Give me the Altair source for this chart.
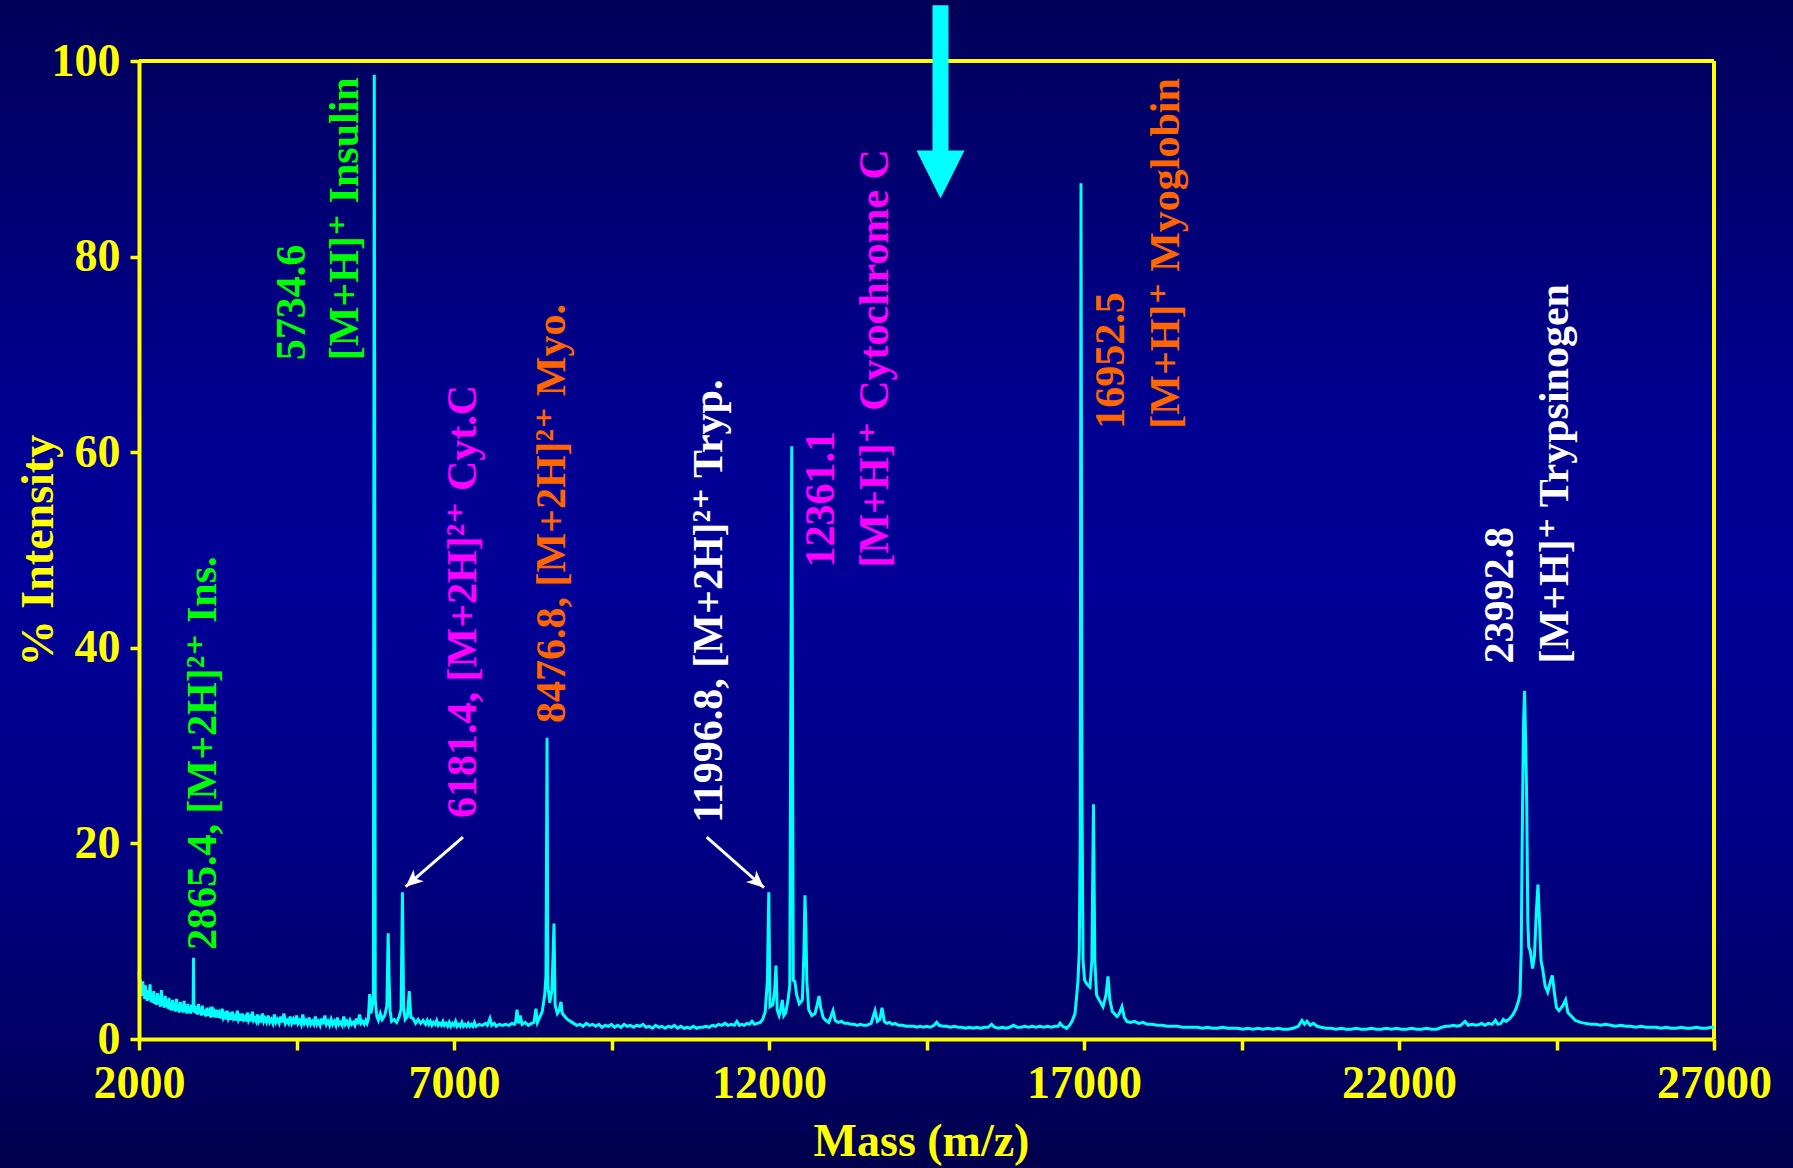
import math
import altair as alt
import pandas as pd

# ---------------------------------------------------------------------------
# MALDI-TOF spectrum of a protein calibration mix: (m/z, % intensity)
# ---------------------------------------------------------------------------
SPEC_LOW = [
    (2000, 6.9), (2010, 5.6), (2020, 6.1), (2030, 4.8), (2040, 5.7), (2050, 4.4),
    (2060, 5.9), (2070, 4.6), (2080, 5.2), (2090, 4.1), (2100, 5.5), (2110, 4.3),
    (2120, 4.9), (2130, 3.9), (2145, 5.0), (2160, 4.0), (2175, 5.6), (2190, 3.8),
    (2205, 4.6), (2220, 3.7), (2235, 4.9), (2250, 3.6), (2265, 4.2), (2280, 3.5),
    (2295, 4.7), (2310, 3.6), (2325, 4.1), (2340, 3.3), (2355, 5.0), (2370, 3.4),
    (2385, 4.0), (2400, 3.2), (2415, 4.4), (2430, 3.3), (2445, 3.9), (2460, 3.1),
    (2475, 4.2), (2490, 3.0), (2505, 3.7), (2520, 2.9), (2535, 4.0), (2550, 3.0),
    (2565, 3.5), (2580, 2.8), (2595, 4.1), (2610, 2.9), (2625, 3.4), (2640, 2.7),
    (2655, 3.8), (2670, 2.9), (2685, 3.3), (2700, 2.7), (2715, 3.9), (2730, 2.8),
    (2745, 3.3), (2760, 2.6), (2775, 3.6), (2790, 2.7), (2805, 3.2), (2820, 2.6),
    (2835, 3.5), (2850, 2.8), (2858, 3.0), (2865.4, 8.3), (2872, 3.0), (2885, 3.4),
    (2900, 2.6), (2915, 3.3), (2930, 2.5), (2945, 3.6), (2960, 2.6), (2975, 3.1),
    (2990, 2.4), (3005, 3.4), (3020, 2.5), (3040, 3.0), (3060, 2.3), (3080, 3.2),
    (3100, 2.4), (3120, 2.8), (3140, 2.2), (3160, 3.3), (3180, 2.3), (3200, 2.7),
    (3220, 2.2), (3240, 3.0), (3260, 2.2), (3280, 2.6), (3300, 2.1), (3320, 3.1),
    (3340, 2.2), (3360, 2.5), (3380, 2.0), (3400, 2.9), (3420, 2.1), (3440, 2.4),
    (3460, 2.0), (3480, 2.8), (3500, 2.1), (3520, 2.3), (3540, 1.9), (3560, 2.9),
    (3580, 2.0), (3600, 2.3), (3620, 1.9), (3640, 2.6), (3660, 2.0), (3680, 2.2),
    (3700, 1.8), (3720, 2.7), (3740, 1.9), (3760, 2.2), (3780, 1.8), (3800, 2.8),
    (3820, 1.9), (3840, 2.1), (3860, 1.8), (3880, 2.5), (3900, 1.8), (3920, 2.1),
    (3940, 1.7), (3960, 2.6), (3980, 1.8), (4000, 2.1), (4025, 1.7), (4050, 2.4),
    (4075, 1.7), (4100, 2.0), (4125, 1.6), (4150, 2.5), (4175, 1.7), (4200, 2.0),
    (4225, 1.6), (4250, 2.3), (4275, 1.7), (4300, 2.6), (4325, 1.6), (4350, 1.9),
    (4375, 1.6), (4400, 2.3), (4425, 1.6), (4450, 2.0), (4475, 1.5), (4500, 2.4),
    (4525, 1.6), (4550, 1.9), (4575, 1.5), (4600, 2.5), (4625, 1.6), (4650, 1.9),
    (4675, 1.5), (4700, 2.2), (4725, 1.5), (4750, 1.8), (4775, 1.5), (4800, 2.3),
    (4825, 1.5), (4850, 1.8), (4875, 1.4), (4900, 2.1), (4925, 1.5), (4950, 2.4),
    (4975, 1.5), (5000, 1.8), (5025, 1.4), (5050, 2.0), (5075, 1.5), (5100, 1.8),
    (5125, 1.4), (5150, 2.2), (5175, 1.5), (5200, 1.7), (5225, 1.4), (5250, 2.3),
    (5275, 1.5), (5300, 1.8), (5325, 1.4), (5350, 1.9), (5375, 1.5), (5400, 1.7),
    (5425, 1.4), (5450, 2.1), (5475, 1.5), (5500, 2.5), (5525, 1.6), (5550, 1.8),
    (5575, 1.5), (5600, 1.9), (5620, 1.6),
]

SPEC_INSULIN = [
    (5640, 2.0), (5662, 4.6), (5680, 2.6), (5700, 3.3), (5720, 4.4), (5734.6, 98.6),
    (5750, 4.0), (5775, 2.3), (5800, 1.9), (5830, 2.6), (5860, 2.0), (5900, 2.4),
    (5935, 3.4), (5955, 10.8), (5968, 6.6), (5985, 2.9), (6010, 1.8), (6050, 2.0),
    (6090, 1.7), (6130, 2.3), (6160, 3.0), (6181.4, 15.0), (6200, 3.2), (6225, 2.0),
    (6260, 2.3), (6290, 4.9), (6315, 2.2), (6350, 2.1), (6390, 1.6), (6430, 2.0),
    (6470, 1.6), (6510, 1.9), (6550, 1.5),
]

SPEC_MYO_2PLUS = [
    (6575, 1.9), (6600, 1.5), (6625, 1.8), (6650, 1.4), (6675, 1.7), (6700, 1.5),
    (6725, 1.9), (6750, 1.4), (6775, 1.6), (6800, 1.4), (6825, 1.8), (6850, 1.4),
    (6875, 1.6), (6900, 1.3), (6925, 1.7), (6950, 1.3), (6975, 1.6), (7000, 1.4),
    (7025, 1.8), (7050, 1.3), (7075, 1.5), (7100, 1.3), (7125, 1.7), (7150, 1.3),
    (7175, 1.5), (7200, 1.3), (7225, 1.6), (7250, 1.3), (7275, 1.5), (7300, 1.3),
    (7325, 1.7), (7350, 1.3), (7400, 1.5), (7450, 1.4), (7500, 1.6), (7530, 1.4),
    (7571, 2.1), (7600, 1.4), (7640, 1.6), (7670, 1.3), (7720, 1.5), (7770, 1.4),
    (7820, 1.5), (7870, 1.4), (7920, 1.6), (7960, 1.5), (7980, 1.8), (8000, 3.0),
    (8025, 1.6), (8050, 2.4), (8080, 1.5), (8130, 1.7), (8180, 1.4), (8230, 1.6),
    (8270, 1.7), (8300, 3.1), (8325, 1.7), (8360, 2.2), (8400, 2.8), (8440, 4.5),
    (8460, 6.5), (8476.8, 30.8), (8490, 5.5), (8520, 3.7), (8555, 5.0), (8587, 11.8),
    (8605, 3.5), (8640, 2.6), (8670, 2.9), (8698, 3.8), (8720, 2.6), (8760, 2.3),
    (8800, 2.0), (8850, 1.8),
]

SPEC_MID = [
    (8900, 1.6), (8950, 1.4), (9000, 1.5), (9050, 1.3), (9100, 1.6), (9150, 1.4),
    (9200, 1.5), (9250, 1.3), (9300, 1.5), (9350, 1.2), (9400, 1.4), (9450, 1.3),
    (9500, 1.5), (9550, 1.2), (9600, 1.4), (9650, 1.2), (9700, 1.5), (9750, 1.3),
    (9800, 1.4), (9850, 1.2), (9900, 1.4), (9950, 1.3), (10000, 1.5), (10050, 1.2),
    (10100, 1.3), (10150, 1.1), (10200, 1.4), (10250, 1.2), (10300, 1.3), (10350, 1.1),
    (10400, 1.3), (10450, 1.2), (10500, 1.4), (10550, 1.1), (10600, 1.3), (10650, 1.1),
    (10700, 1.2), (10750, 1.1), (10800, 1.3), (10850, 1.1), (10900, 1.2), (10950, 1.2),
    (11000, 1.3), (11050, 1.2), (11100, 1.4), (11150, 1.3), (11200, 1.5), (11250, 1.4),
    (11300, 1.6), (11350, 1.4), (11400, 1.5), (11450, 1.4), (11490, 1.8), (11530, 1.4),
    (11570, 1.5), (11610, 1.4), (11650, 1.6), (11690, 1.5), (11730, 1.8), (11770, 1.5),
    (11810, 1.6), (11860, 1.7), (11900, 2.0), (11940, 2.8), (11975, 6.0),
    (11996.8, 15.0), (12015, 3.3), (12060, 3.5), (12090, 5.0), (12111, 7.5),
    (12130, 3.0), (12160, 2.4), (12185, 3.0), (12211, 4.0), (12235, 2.4), (12265, 2.7),
    (12300, 3.9), (12330, 5.5), (12361.1, 60.6), (12385, 6.0), (12410, 5.9),
    (12440, 4.5), (12480, 3.6), (12530, 4.0), (12555, 9.0), (12571, 14.7),
    (12585, 11.5), (12600, 6.0), (12630, 3.0), (12680, 2.4), (12730, 2.6),
    (12765, 3.5), (12794, 4.4), (12820, 3.2), (12860, 2.2), (12900, 1.9), (12950, 1.7),
    (13016, 2.9), (13050, 1.9), (13100, 1.7), (13150, 1.8), (13200, 1.6), (13250, 1.6),
    (13300, 1.5), (13350, 1.5), (13400, 1.4), (13450, 1.5), (13500, 1.4), (13550, 1.4),
    (13620, 1.6), (13683, 2.9), (13720, 1.8), (13760, 2.0), (13794, 3.2), (13830, 1.8),
    (13870, 1.6), (13910, 1.7), (13960, 1.5), (14000, 1.6), (14060, 1.4), (14120, 1.4),
    (14180, 1.3), (14240, 1.3), (14300, 1.3), (14350, 1.2), (14400, 1.3), (14450, 1.2),
    (14500, 1.3), (14560, 1.2), (14620, 1.4), (14661, 1.7), (14700, 1.4), (14760, 1.3),
    (14820, 1.3), (14880, 1.2), (14940, 1.3), (15000, 1.2), (15060, 1.2), (15120, 1.1),
    (15180, 1.2), (15240, 1.1), (15300, 1.2), (15360, 1.1), (15420, 1.2), (15480, 1.2),
    (15534, 1.5), (15580, 1.2), (15640, 1.1), (15700, 1.2), (15760, 1.1), (15820, 1.2),
    (15880, 1.4), (15940, 1.2), (16000, 1.2), (16060, 1.3), (16120, 1.2), (16180, 1.3),
    (16240, 1.2), (16300, 1.3), (16360, 1.2), (16420, 1.3), (16480, 1.2), (16540, 1.3),
    (16590, 1.3), (16619, 1.6), (16660, 1.3), (16700, 1.2), (16725, 1.1), (16770, 1.4),
    (16810, 1.8), (16857, 2.6), (16885, 4.5), (16905, 6.0), (16925, 9.0), (16940, 20.0),
]

SPEC_MYO = [
    (16952.5, 87.5), (16968, 25.0), (16985, 8.0), (17010, 6.0), (17050, 5.6),
    (17095, 5.3), (17125, 8.0), (17150, 24.0), (17172, 8.0), (17200, 4.5),
    (17240, 4.0), (17302, 3.3), (17350, 4.5), (17381, 6.4), (17410, 4.0),
    (17450, 2.8), (17524, 2.3), (17560, 2.6), (17603, 3.3), (17640, 2.2),
    (17680, 1.8), (17740, 1.7), (17800, 1.8), (17870, 1.6), (17940, 1.7),
    (18000, 1.5), (18080, 1.5), (18160, 1.4), (18240, 1.4), (18320, 1.3),
    (18400, 1.3), (18480, 1.3), (18560, 1.2), (18640, 1.2), (18720, 1.2),
    (18800, 1.2), (18880, 1.1), (18960, 1.2), (19040, 1.1), (19120, 1.1),
    (19200, 1.2), (19280, 1.1), (19360, 1.1), (19440, 1.1), (19520, 1.0),
    (19600, 1.1), (19680, 1.0), (19760, 1.1), (19840, 1.0), (19920, 1.1),
    (20000, 1.0), (20080, 1.1), (20160, 1.0), (20240, 1.0), (20320, 1.1),
    (20400, 1.3), (20460, 1.9), (20500, 1.5), (20540, 1.8), (20590, 1.4),
    (20640, 1.6), (20700, 1.3), (20760, 1.2), (20840, 1.1), (20920, 1.1),
    (21000, 1.0), (21080, 1.1), (21160, 1.0), (21240, 1.0), (21320, 1.1),
    (21400, 1.0), (21480, 1.0), (21560, 1.1), (21640, 1.0), (21720, 1.0),
    (21800, 1.1), (21880, 1.0), (21960, 1.1), (22040, 1.0),
]

SPEC_TRYP = [
    (22120, 1.0), (22200, 1.1), (22280, 1.0), (22360, 1.0), (22440, 1.1),
    (22520, 1.0), (22600, 1.0), (22680, 1.2), (22740, 1.3), (22800, 1.3),
    (22860, 1.4), (22920, 1.3), (22980, 1.4), (23048, 1.8), (23100, 1.4),
    (23160, 1.5), (23220, 1.4), (23280, 1.5), (23312, 1.6), (23360, 1.4),
    (23420, 1.6), (23480, 1.5), (23530, 1.9), (23570, 1.5), (23620, 1.6),
    (23656, 2.0), (23700, 1.8), (23760, 2.1), (23810, 2.5), (23850, 3.0),
    (23894, 3.8), (23921, 4.6), (23940, 9.0), (23955, 20.0), (23975, 32.0),
    (23992.8, 35.6), (24012, 30.0), (24027, 24.4), (24045, 12.0), (24060, 9.4),
    (24085, 9.0), (24120, 7.2), (24150, 8.5), (24180, 13.0), (24206, 15.8),
    (24230, 12.0), (24255, 8.0), (24280, 7.2), (24320, 5.4), (24360, 4.8),
    (24400, 5.8), (24433, 6.5), (24465, 4.8), (24500, 3.2), (24540, 2.9),
    (24600, 3.4), (24645, 4.0), (24680, 2.7), (24740, 2.3), (24800, 1.9),
    (24880, 1.7), (24960, 1.6), (25040, 1.5), (25120, 1.5), (25200, 1.4),
    (25280, 1.5), (25360, 1.4), (25440, 1.3), (25520, 1.4), (25600, 1.3),
    (25680, 1.3), (25760, 1.2), (25840, 1.3), (25920, 1.2), (26000, 1.2),
    (26080, 1.2), (26160, 1.1), (26240, 1.2), (26320, 1.1), (26400, 1.1),
    (26480, 1.2), (26560, 1.1), (26640, 1.1), (26720, 1.2), (26800, 1.1),
    (26880, 1.1), (26960, 1.2), (27000, 1.2),
]

# Peak annotations: text, anchor m/z, anchor % intensity (text start), colour
LABEL_TEXT = [
    "2865.4, [M+2H]²⁺ Ins.",
    "5734.6", "[M+H]⁺ Insulin",
    "6181.4, [M+2H]²⁺ Cyt.C",
    "8476.8, [M+2H]²⁺ Myo.",
    "11996.8, [M+2H]²⁺ Tryp.",
    "12361.1", "[M+H]⁺ Cytochrome C",
    "16952.5", "[M+H]⁺ Myoglobin",
    "23992.8", "[M+H]⁺ Trypsinogen",
]
LABEL_MASS = [3010, 4429, 5270, 7143, 8556, 11048, 12825, 13683, 17429, 18302, 23603, 24476]
LABEL_BASE = [9.1, 69.4, 69.4, 22.6, 32.3, 22.1, 48.2, 48.2, 62.4, 62.4, 38.4, 38.4]
GREEN, MAGENTA, ORANGE, WHITE = "#00FF00", "#FF00FF", "#FF6600", "#FFFFFF"
LABEL_COLOR = [GREEN, GREEN, GREEN, MAGENTA, ORANGE, WHITE,
               MAGENTA, MAGENTA, ORANGE, ORANGE, WHITE, WHITE]

# Pointer arrows for the doubly charged Cyt.C and Tryp. ions
ARROW_FROM_MASS = [7143, 11011]
ARROW_FROM_INT = [20.65, 20.65]
ARROW_TO_MASS = [6233, 11921]
ARROW_TO_INT = [15.57, 15.47]

# Big marker arrow at the top of the plot
MARK_MASS = 14722
MARK_SHAFT = (105.7, 90.5)
MARK_HEAD = 88.4

X_DOMAIN = [2000, 27000]
Y_DOMAIN = [0, 100]
X_TICKS = list(range(2000, 27001, 2500))
Y_TICKS = [0, 20, 40, 60, 80, 100]

# ---------------------------------------------------------------------------
YELLOW = "#FFFF00"
CYAN = "#00FFFF"
FONT = "Liberation Serif, Times New Roman, DejaVu Serif, serif"
W, H = 1575, 978
PAD = {"left": 139, "top": 61, "right": 79, "bottom": 129}

xs = alt.Scale(domain=X_DOMAIN, nice=False, zero=False)
ys = alt.Scale(domain=Y_DOMAIN, nice=False)

x_axis = alt.Axis(
    values=X_TICKS, format="d",
    labelExpr="(datum.value - 2000) % 5000 == 0 ? datum.label : ''",
    title="Mass (m/z)", titleX=782, titleY=116, titleAlign="center",
    titleBaseline="alphabetic", titleFont=FONT, titleFontSize=46,
    titleFontWeight="bold", titleColor=YELLOW,
    labelFont=FONT, labelFontSize=46, labelFontWeight="bold", labelColor=YELLOW,
    labelPadding=11, labelFlush=False, labelOverlap=False,
    tickSize=11, tickWidth=3.5, tickColor=YELLOW,
    domainColor=YELLOW, domainWidth=4, grid=False, zindex=1,
)
y_axis = alt.Axis(
    values=Y_TICKS,
    title="% Intensity", titleAngle=270, titleX=-87, titleY=H / 2,
    titleAlign="center", titleBaseline="alphabetic", titleFont=FONT,
    titleFontSize=46, titleFontWeight="bold", titleColor=YELLOW,
    labelFont=FONT, labelFontSize=46, labelFontWeight="bold", labelColor=YELLOW,
    labelPadding=10, labelFlush=False, labelOverlap=False,
    tickSize=9, tickWidth=3.5, tickColor=YELLOW,
    domainColor=YELLOW, domainWidth=4, grid=False, zindex=1,
)


def X(field):
    return alt.X(field, type="quantitative", scale=xs, axis=x_axis)


def Y(field):
    return alt.Y(field, type="quantitative", scale=ys, axis=y_axis)


spec = pd.DataFrame(
    SPEC_LOW + SPEC_INSULIN + SPEC_MYO_2PLUS + SPEC_MID + SPEC_MYO + SPEC_TRYP,
    columns=["mass", "intensity"],
)

# slide-style vertical gradient behind everything
bg_fill = {
    "gradient": "linear", "x1": 0, "x2": 0, "y1": 0, "y2": 1,
    "stops": [
        {"offset": 0.0, "color": "#000058"},
        {"offset": 0.35, "color": "#000090"},
        {"offset": 0.5, "color": "#000098"},
        {"offset": 0.72, "color": "#000086"},
        {"offset": 0.9, "color": "#000064"},
        {"offset": 1.0, "color": "#00004C"},
    ],
}
background = alt.Chart(pd.DataFrame({"k": [0]})).mark_rect(
    fill=bg_fill, strokeWidth=0
).encode(
    x=alt.value(-PAD["left"]), x2=alt.value(W + PAD["right"]),
    y=alt.value(-PAD["top"]), y2=alt.value(H + PAD["bottom"]),
)

# top and right edges of the yellow frame
frame_df = pd.DataFrame({
    "mass": [X_DOMAIN[0], X_DOMAIN[1]], "mass2": [X_DOMAIN[1], X_DOMAIN[1]],
    "intensity": [Y_DOMAIN[1], Y_DOMAIN[0]], "intensity2": [Y_DOMAIN[1], Y_DOMAIN[1]],
})
frame = alt.Chart(frame_df).mark_rule(color=YELLOW, strokeWidth=4).encode(
    x=X("mass"), x2="mass2", y=Y("intensity"), y2="intensity2"
)

line = alt.Chart(spec).mark_line(
    color=CYAN, strokeWidth=3, strokeJoin="miter", interpolate="linear"
).encode(x=X("mass"), y=Y("intensity"), order="mass:Q")

# pointer arrows
px_mass = W / (X_DOMAIN[1] - X_DOMAIN[0])
px_int = H / (Y_DOMAIN[1] - Y_DOMAIN[0])
angles = [
    math.degrees(math.atan2(-(i1 - i0) * px_int, (m1 - m0) * px_mass)) % 360
    for m0, i0, m1, i1 in zip(ARROW_FROM_MASS, ARROW_FROM_INT, ARROW_TO_MASS, ARROW_TO_INT)
]
arrow_df = pd.DataFrame({
    "mass": ARROW_FROM_MASS, "intensity": ARROW_FROM_INT,
    "mass2": ARROW_TO_MASS, "intensity2": ARROW_TO_INT,
    "tip_mass": ARROW_TO_MASS, "tip_int": ARROW_TO_INT, "angle": angles,
})
arrow_lines = alt.Chart(arrow_df).mark_rule(color=WHITE, strokeWidth=3).encode(
    x=X("mass"), x2="mass2", y=Y("intensity"), y2="intensity2"
)
arrow_heads = alt.Chart(arrow_df).mark_point(
    shape="M0,0L-2,-0.9L-1.45,0L-2,0.9Z", size=300, filled=True,
    color=WHITE, opacity=1, strokeWidth=0,
).encode(
    x=X("tip_mass"), y=Y("tip_int"), angle=alt.Angle("angle:Q", scale=None)
)

mark_df = pd.DataFrame({
    "mass": [MARK_MASS], "top": [MARK_SHAFT[0]], "bottom": [MARK_SHAFT[1]],
    "head": [MARK_HEAD],
})
mark_shaft = alt.Chart(mark_df).mark_rule(
    color=CYAN, strokeWidth=16, strokeCap="butt"
).encode(x=X("mass"), y=Y("top"), y2="bottom")
mark_head = alt.Chart(mark_df).mark_point(
    shape="M-1,-1L1,-1L0,1Z", size=2304, filled=True, color=CYAN,
    opacity=1, strokeWidth=0,
).encode(x=X("mass"), y=Y("head"))

labels_df = pd.DataFrame({
    "text": LABEL_TEXT, "mass": LABEL_MASS, "intensity": LABEL_BASE,
    "color": LABEL_COLOR,
})
labels = alt.Chart(labels_df).mark_text(
    angle=270, align="left", baseline="middle", font=FONT, fontSize=42,
    fontWeight="bold",
).encode(
    x=X("mass"), y=Y("intensity"), text="text:N",
    color=alt.Color("color:N", scale=None),
)

chart = alt.layer(
    background, frame, line, arrow_lines, arrow_heads, mark_shaft, mark_head, labels
).properties(
    width=W, height=H, padding=PAD,
    autosize=alt.AutoSizeParams(type="none"),
    background="#00004C",
).configure_view(stroke=None)

chart.save("out.html", embed_options={"renderer": "svg", "actions": False})
